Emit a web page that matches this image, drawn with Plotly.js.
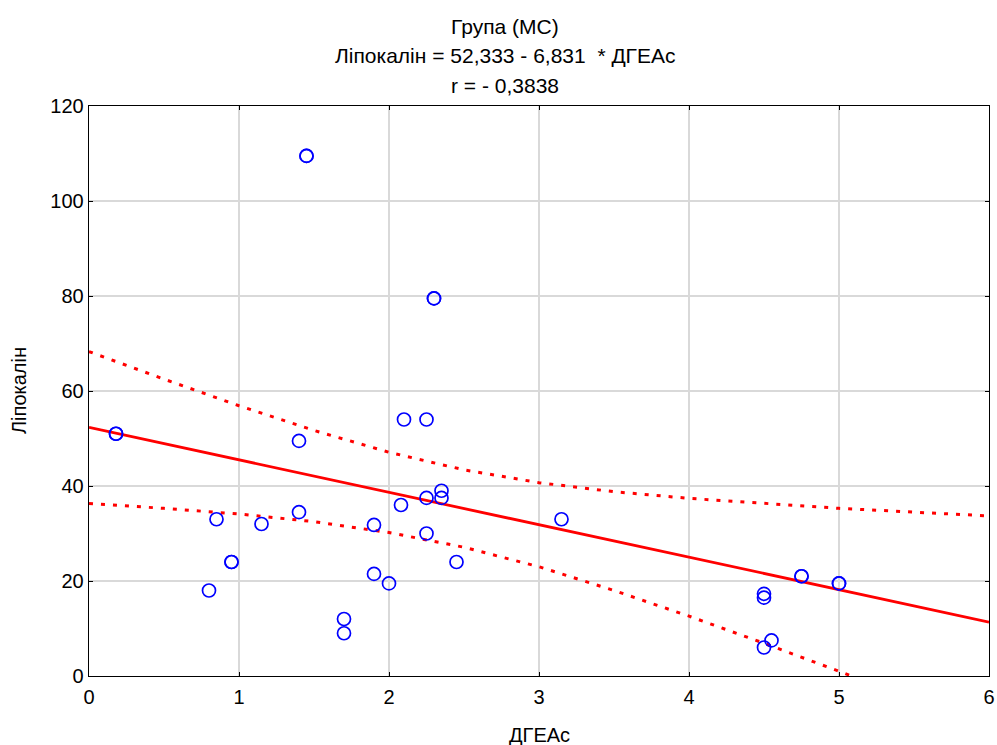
<!DOCTYPE html>
<html>
<head>
<meta charset="utf-8">
<script src="https://cdn.plot.ly/plotly-3.0.1.min.js"></script>
<style>html,body{margin:0;padding:0;background:#fff;}#chart{width:997px;height:745px;}</style>
</head>
<body>
<div id="chart"></div>
<script>
// Observed points (ДГЕАс, Ліпокалін)
const dgeas = [0.18, 0.18, 1.40, 2.10, 2.25, 0.85, 1.15, 1.40, 1.90, 2.08, 2.25, 2.35, 2.35, 2.25, 2.45,
               0.95, 0.95, 0.80, 1.90, 2.00, 1.70, 1.70, 1.45, 1.45, 2.30, 2.30, 3.15,
               4.75, 4.75, 5.00, 5.00, 4.50, 4.50, 4.55, 4.50];
const lipocalin = [51.0, 51.0, 49.5, 54.0, 54.0, 33.0, 32.0, 34.5, 31.8, 36.0, 37.5, 39.0, 37.5, 30.0, 24.0,
                   24.0, 24.0, 18.0, 21.5, 19.5, 12.0, 9.0, 109.5, 109.5, 79.5, 79.5, 33.0,
                   21.0, 21.0, 19.5, 19.5, 17.3, 16.5, 7.5, 6.0];

// Regression: Ліпокалін = 52,333 - 6,831 * ДГЕАс
const intercept = 52.333;
const slope = -6.831;
const fitX = [0, 6];

// 95% confidence band
const bandX = [0, 0.5, 1, 1.5, 2, 2.5, 3, 3.5, 4, 4.5, 5, 5.5, 6];
const bandUpper = [68.3, 62.5, 56.9, 51.7, 47.1, 43.4, 40.7, 38.8, 37.4, 36.3, 35.3, 34.5, 33.7];
const bandLower = [36.3, 35.3, 34.1, 32.5, 30.2, 27.1, 23.0, 18.0, 12.6, 6.9, 1.0, -5.0, -11.1];

const xTicks = [0, 1, 2, 3, 4, 5, 6];
const yTicks = [0, 20, 40, 60, 80, 100, 120];

const titleLines = ['Група (МС)', 'Лiпокалiн = 52,333 - 6,831  * ДГЕАс', 'r = - 0,3838'];
const xTitle = 'ДГЕАс';
const yTitle = 'Лiпокалiн';

const fitY = fitX.map(x => intercept + slope * x);

const traces = [
  {x: bandX, y: bandUpper, mode: 'lines', line: {color: '#ff0000', width: 3, dash: '4px,8px'}, hoverinfo: 'skip'},
  {x: bandX, y: bandLower, mode: 'lines', line: {color: '#ff0000', width: 3, dash: '4px,8px'}, hoverinfo: 'skip'},
  {x: fitX, y: fitY, mode: 'lines', line: {color: '#ff0000', width: 2.8}},
  {x: dgeas, y: lipocalin, mode: 'markers',
   marker: {symbol: 'circle-open', size: 13, color: '#0000ff', line: {width: 1.7, color: '#0000ff'}}}
];

const fontFam = 'Liberation Sans, Arial, sans-serif';
const FS = 20;
const txtFont = {family: fontFam, size: FS, color: '#000'};
const titleFont = {family: fontFam, size: 21, color: '#000'};

// plot area: top at 106 px, bottom at 676 px (height 570), left 89, width 900
const pyToPaper = py => (676 - py) / 570;
const pxToPaper = px => (px - 89) / 900;

const titleY = [26, 56, 86];
const annotations = titleLines.map((t, i) => ({
  text: t, xref: 'paper', yref: 'paper', x: pxToPaper(505), y: pyToPaper(titleY[i]),
  xanchor: 'center', yanchor: 'middle', showarrow: false, font: titleFont
}));
annotations.push({text: xTitle, xref: 'paper', yref: 'paper', x: pxToPaper(539), y: pyToPaper(735),
  xanchor: 'center', yanchor: 'middle', showarrow: false, font: txtFont});
annotations.push({text: yTitle, xref: 'paper', yref: 'paper', x: pxToPaper(19), y: pyToPaper(391),
  xanchor: 'center', yanchor: 'middle', textangle: -90, showarrow: false, font: txtFont});

const layout = {
  width: 997, height: 745,
  margin: {l: 89, r: 8, t: 106, b: 69},
  paper_bgcolor: '#ffffff', plot_bgcolor: '#ffffff',
  showlegend: false,
  font: txtFont,
  annotations: annotations,
  xaxis: {
    range: [0, 6], tickvals: xTicks, ticktext: xTicks.map(String),
    showgrid: true, gridcolor: '#d9d9d9', gridwidth: 1.3,
    zeroline: false, showline: true, linecolor: '#000', linewidth: 1.3, mirror: 'ticks',
    ticks: 'inside', ticklen: 4, tickcolor: '#000', ticklabelstandoff: 3,
    tickfont: txtFont
  },
  yaxis: {
    range: [0, 120], tickvals: yTicks, ticktext: yTicks.map(String),
    showgrid: true, gridcolor: '#d9d9d9', gridwidth: 1.3,
    zeroline: false, showline: true, linecolor: '#000', linewidth: 1.3, mirror: 'ticks',
    ticks: 'inside', ticklen: 4, tickcolor: '#000',
    tickfont: txtFont
  }
};

Plotly.newPlot('chart', traces, layout, {staticPlot: true, displayModeBar: false});
</script>
</body>
</html>
